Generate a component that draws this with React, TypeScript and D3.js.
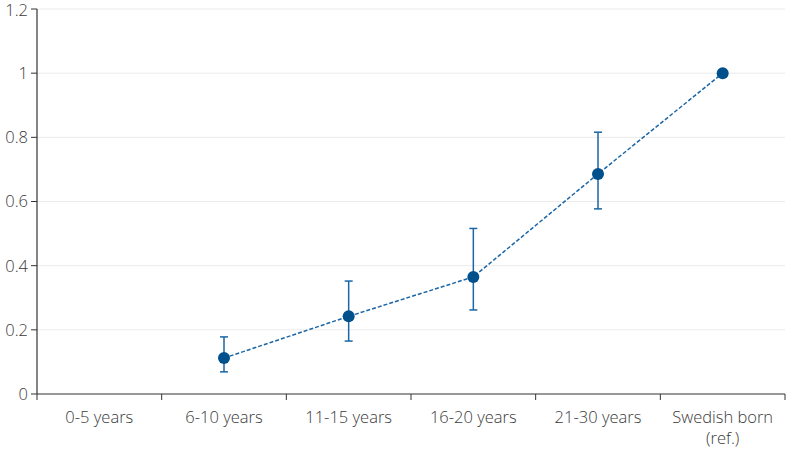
import * as d3 from "d3";

const categories = ["0-5 years", "6-10 years", "11-15 years", "16-20 years", "21-30 years", "Swedish born\n(ref.)"];
const estimates: (number | null)[] = [null, 0.112, 0.242, 0.365, 0.686, 1.0];
const lower: (number | null)[] = [null, 0.069, 0.165, 0.262, 0.577, null];
const upper: (number | null)[] = [null, 0.178, 0.352, 0.516, 0.816, null];
const yTicks = [0, 0.2, 0.4, 0.6, 0.8, 1, 1.2];

const W = 786;
const H = 449;
const margin = { top: 9, right: 1, bottom: 55, left: 37 };

const App = () => {
  const x = d3
    .scaleBand()
    .domain(categories)
    .range([margin.left, W - margin.right])
    .padding(0);
  const y = d3
    .scaleLinear()
    .domain([0, 1.2])
    .range([H - margin.bottom, margin.top]);

  const cx = (c: string) => (x(c) as number) + x.bandwidth() / 2;

  const pts = categories
    .map((c, i) => ({ c, v: estimates[i], lo: lower[i], hi: upper[i] }))
    .filter((d) => d.v !== null);

  const line = d3
    .line<{ c: string; v: number | null }>()
    .x((d) => cx(d.c))
    .y((d) => y(d.v as number));

  const font = "'Open Sans', 'Noto Sans', sans-serif";
  const textColor = "#3a3a3a";
  const lineColor = "#1a66a6";
  const dotColor = "#00508c";
  const ticksX = [...categories.map((c) => x(c) as number), W - margin.right];

  return (
    <svg width={W} height={H} style={{ position: "absolute", left: 0, top: 0 }}>
      <g>
        {yTicks.map((t) => (
          <g key={t}>
            {t > 0 && (
              <line
                x1={margin.left}
                x2={W - margin.right}
                y1={y(t)}
                y2={y(t)}
                stroke="#ebebeb"
                strokeWidth={1}
              />
            )}
            <line x1={margin.left - 6} x2={margin.left} y1={y(t)} y2={y(t)} stroke="#333" />
            <text
              x={margin.left - 9}
              y={y(t) + (t === 1.2 ? 1 : 0)}
              dy="0.36em"
              textAnchor="end"
              fontFamily={font}
              fontWeight={300}
              fontSize={16.5}
              fill={textColor}
            >
              {t}
            </text>
          </g>
        ))}
        <line x1={margin.left} x2={margin.left} y1={margin.top} y2={y(0)} stroke="#333" strokeWidth={1.2} />
        <line x1={margin.left} x2={W - margin.right} y1={y(0)} y2={y(0)} stroke="#333" strokeWidth={1.2} />
        {ticksX.map((tx, i) => (
          <line key={i} x1={tx} x2={tx} y1={y(0)} y2={y(0) + 6} stroke="#333" />
        ))}
        {categories.map((c) =>
          c.split("\n").map((s, j) => (
            <text
              key={c + j}
              x={cx(c)}
              y={y(0) + 23 + j * 21}
              dy="0.35em"
              textAnchor="middle"
              fontFamily={font}
              fontWeight={300}
              fontSize={16.5}
              fill={textColor}
            >
              {s}
            </text>
          ))
        )}
      </g>
      <path d={line(pts) ?? ""} fill="none" stroke={lineColor} strokeWidth={1.5} strokeDasharray="4,2" />
      {pts.map((d) =>
        d.lo !== null && d.hi !== null ? (
          <g key={"e" + d.c} stroke={lineColor} strokeWidth={1.5}>
            <line x1={cx(d.c)} x2={cx(d.c)} y1={y(d.lo)} y2={y(d.hi)} />
            <line x1={cx(d.c) - 4} x2={cx(d.c) + 4} y1={y(d.lo)} y2={y(d.lo)} />
            <line x1={cx(d.c) - 4} x2={cx(d.c) + 4} y1={y(d.hi)} y2={y(d.hi)} />
          </g>
        ) : null
      )}
      {pts.map((d) => (
        <circle key={"p" + d.c} cx={cx(d.c)} cy={y(d.v as number)} r={6} fill={dotColor} />
      ))}
    </svg>
  );
};

export default App;
